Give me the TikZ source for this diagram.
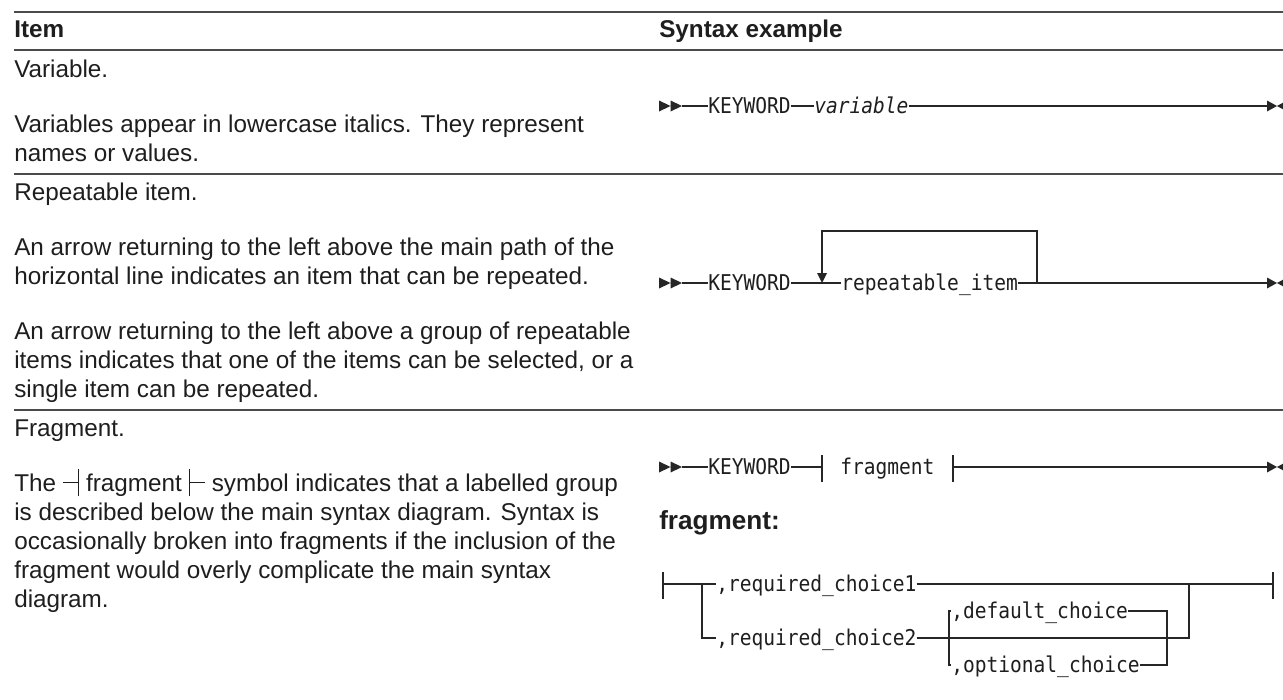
\documentclass[tikz,border=0pt]{standalone}
\usepackage{fontspec}
\setmainfont{Liberation Sans}
\newfontfamily\diagfont[FakeStretch=0.9]{DejaVu Sans Mono}
\definecolor{ink}{HTML}{1E1E1E}
\definecolor{linec}{HTML}{262626}
\definecolor{rulec}{HTML}{4A4A4A}
\newcommand{\fragL}{\rule[0.33em]{0.62em}{0.06em}\rule[-0.22em]{0.06em}{1.14em}}
\newcommand{\fragR}{\rule[-0.22em]{0.06em}{1.14em}\rule[0.33em]{0.62em}{0.06em}}
\begin{document}
\begin{tikzpicture}[x=0.75pt,y=-0.75pt,
  txt/.style={anchor=base west,inner sep=0pt,text=ink,font=\fontsize{18.2pt}{21.75pt}\selectfont},
  hdr/.style={anchor=base west,inner sep=0pt,text=ink,font=\fontsize{18.2pt}{21.75pt}\selectfont\bfseries},
  dg/.style={anchor=west,inner sep=0pt,text=ink,text height=11.7pt,text depth=0pt,font=\diagfont\fontsize{16.3pt}{18pt}\selectfont},
  dgi/.style={dg,font=\diagfont\itshape\fontsize{16.3pt}{18pt}\selectfont},
  rulel/.style={draw=rulec,line width=1.5pt},
  ln/.style={draw=linec,line width=1.15pt},
  lnb/.style={draw=linec,line width=1.6pt},
  dblstart/.pic={\fill[linec] (0,-5.5) -- (11.5,0) -- (0,5.5) -- cycle (11.5,-5.5) -- (23,0) -- (11.5,5.5) -- cycle;},
  endmark/.pic={\fill[linec] (0,-5.5) -- (10,0) -- (0,5.5) -- cycle (20,-5.5) -- (10,0) -- (20,5.5) -- cycle;}
]
\useasboundingbox (0,0) rectangle (1283,700);
\clip (0,0) rectangle (1283,700);
\fill[white] (0,0) rectangle (1283,700);

% table rules
\coordinate (r0a) at (14,12);  \coordinate (r0b) at (1283,12);
\coordinate (r1a) at (14,50);  \coordinate (r1b) at (1283,50);
\coordinate (r2a) at (14,174); \coordinate (r2b) at (1283,174);
\coordinate (r3a) at (14,410); \coordinate (r3b) at (1283,410);
\draw[rulel] (r0a) -- (r0b);
\draw[rulel] (r1a) -- (r1b);
\draw[rulel] (r2a) -- (r2b);
\draw[rulel] (r3a) -- (r3b);

% headers
\node[hdr] (hItem) at (14,37) {Item};
\node[hdr] (hSyn) at (659,37) {Syntax example};

% left column
\node[txt] (t1) at (14,77) {Variable.};
\node[txt] (t2) at (14,132) {Variables appear in lowercase italics. They represent};
\node[txt] (t3) at (14,161) {names or values.};
\node[txt] (t4) at (14,200) {Repeatable item.};
\node[txt] (t5) at (14,255) {An arrow returning to the left above the main path of the};
\node[txt] (t6) at (14,284) {horizontal line indicates an item that can be repeated.};
\node[txt] (t7) at (14,339) {An arrow returning to the left above a group of repeatable};
\node[txt] (t8) at (14,368) {items indicates that one of the items can be selected, or a};
\node[txt] (t9) at (14,397) {single item can be repeated.};
\node[txt] (t10) at (14,436) {Fragment.};
\node[txt] (t11) at (14,491) {The \fragL\ fragment \fragR\ symbol indicates that a labelled group};
\node[txt] (t12) at (14,520) {is described below the main syntax diagram. Syntax is};
\node[txt] (t13) at (14,549) {occasionally broken into fragments if the inclusion of the};
\node[txt] (t14) at (14,578) {fragment would overly complicate the main syntax};
\node[txt] (t15) at (14,607) {diagram.};

% variable diagram
\pic at (659,106) {dblstart};
\coordinate (v0) at (682,106);
\node[dg] (vKw) at (708,106) {KEYWORD};
\node[dgi] (vVar) at (814,106) {variable};
\coordinate (vEnd) at (1267,106);
\draw[ln] (v0) -- (vKw.west);
\draw[ln] (vKw.east) -- (vVar.west);
\draw[ln] (vVar.east) -- (vEnd);
\draw[lnb] (vVar.east) -- ++(24,0);
\pic at (vEnd) {endmark};

% repeatable diagram
\pic at (659,283) {dblstart};
\coordinate (p0) at (682,283);
\node[dg] (pKw) at (708,283) {KEYWORD};
\node[dg] (pItem) at (841,283) {repeatable\_item};
\coordinate (pEnd) at (1267,283);
\coordinate (pR) at (1037,283);
\coordinate (pRt) at (1037,231);
\coordinate (pLt) at (822,231);
\coordinate (pAr) at (822,274);
\coordinate (pTip) at (822,283);
\draw[ln] (p0) -- (pKw.west);
\draw[ln] (pKw.east) -- (pItem.west);
\draw[ln] (pItem.east) -- (pEnd);
\draw[ln] (pR) -- (pRt) -- (pLt) -- (pAr);
\fill[linec] (817,273) -- (827,273) -- (pTip) -- cycle;
\pic at (pEnd) {endmark};

% fragment diagram
\pic at (659,467) {dblstart};
\coordinate (f0) at (682,467);
\node[dg] (fKw) at (708,467) {KEYWORD};
\coordinate (fB1) at (822,467);
\node[dg] (fFrag) at (840,467) {fragment};
\coordinate (fB2) at (953,467);
\coordinate (fEnd) at (1267,467);
\draw[ln] (f0) -- (fKw.west);
\draw[ln] (fKw.east) -- (fB1);
\draw[ln] (fB1) ++(0,-12) -- ++(0,27);
\draw[ln] (fB2) ++(0,-12) -- ++(0,27);
\draw[ln] (fB2) -- (fEnd);
\draw[lnb] (fB2) ++(3,0) -- ++(24,0);
\pic at (fEnd) {endmark};

\node[hdr,font=\fontsize{19.6pt}{22pt}\selectfont\bfseries] (fLbl) at (659,529) {fragment:};

% fragment definition
\coordinate (bL) at (663,584);
\coordinate (bJ) at (702,584);
\coordinate (bJ2) at (702,638);
\node[dg] (c1) at (716,584) {,required\_choice1};
\node[dg] (c2) at (716,638) {,required\_choice2};
\node[dg] (cd) at (951,611) {,default\_choice};
\node[dg] (co) at (951,665) {,optional\_choice};
\coordinate (bR) at (1273,584);
\coordinate (bM) at (1189,584);
\coordinate (bM2) at (1189,638);
\coordinate (dL1) at (949,611);
\coordinate (dL2) at (949,665);
\coordinate (dR1) at (1167,611);
\coordinate (dR2) at (1167,665);
\draw[ln] (bL) ++(0,-12) -- ++(0,27);
\draw[ln] (bR) ++(0,-12) -- ++(0,27);
\draw[ln] (bL) -- (c1.west);
\draw[ln] (bJ) -- (bJ2) -- (c2.west);
\draw[ln] (c1.east) -- (bR);
\draw[lnb] (bM) ++(6,0) -- ++(24,0);
\draw[ln] (c2.east) -- (bM2) -- (bM);
\draw[ln] (cd.west) -- (dL1) -- (dL2) -- (co.west);
\draw[ln] (cd.east) -- (dR1) -- (dR2) -- (co.east);
\end{tikzpicture}
\end{document}
